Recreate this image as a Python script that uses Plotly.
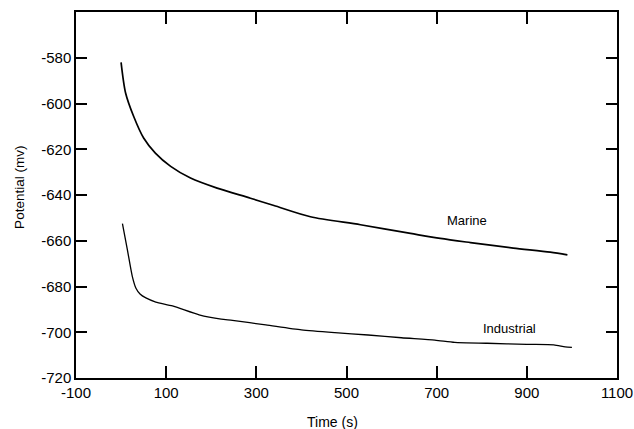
import plotly.graph_objects as go

# Marine series (time s, potential mV)
marine_t = [0, 10, 28, 50, 76, 110, 154, 213, 287, 339, 420, 531, 642, 708, 775, 870, 952, 990]
marine_v = [-582, -595.4, -605.7, -615.1, -621.7, -627.5, -632.6, -637.0, -641.4, -644.6, -649.5, -653.0, -656.8, -659.0, -660.8, -663.2, -665.0, -666.2]

# Industrial series
ind_t = [3, 14, 25, 33, 42, 55, 77, 114, 173, 222, 247, 321, 400, 474, 548, 622, 696, 740, 812, 900, 960, 985, 1000]
ind_v = [-652.5, -664, -675.7, -680.8, -683.3, -685.0, -686.8, -688.5, -692.4, -694.3, -694.8, -696.8, -699.0, -700.2, -701.2, -702.4, -703.4, -704.4, -704.8, -705.3, -705.5, -706.4, -706.6]

x_ticks = [-100, 100, 300, 500, 700, 900, 1100]
y_ticks = [-720, -700, -680, -660, -640, -620, -600, -580]

labels = [("Marine", 768, -651.2), ("Industrial", 862, -698.5)]

font_family = "Liberation Sans, Arial, sans-serif"

fig = go.Figure()
fig.add_trace(go.Scatter(x=marine_t, y=marine_v, mode="lines",
                         line=dict(color="black", width=1.7, shape="spline", smoothing=0.8),
                         showlegend=False))
fig.add_trace(go.Scatter(x=ind_t, y=ind_v, mode="lines",
                         line=dict(color="black", width=1.3, shape="spline", smoothing=0.6),
                         showlegend=False))

for text, lx, ly in labels:
    fig.add_annotation(x=lx, y=ly, text=text, showarrow=False,
                       font=dict(size=13, color="black", family=font_family))

# axis titles as annotations for exact placement
fig.add_annotation(xref="paper", yref="paper", x=0.475, y=0, yanchor="middle",
                   yshift=-44, text="Time (s)", showarrow=False,
                   font=dict(size=14, color="black", family=font_family))
fig.add_annotation(xref="paper", yref="paper", x=-0.105, y=0.52, textangle=-90,
                   xanchor="center", yanchor="middle",
                   text="Potential (mv)", showarrow=False,
                   font=dict(size=13.5, color="black", family=font_family))

fig.update_layout(
    width=634, height=429,
    margin=dict(l=76, r=17, t=12, b=51),
    paper_bgcolor="white", plot_bgcolor="white",
    font=dict(family=font_family, color="black", size=15),
)
fig.update_xaxes(range=[-100, 1100], tickvals=x_ticks, ticktext=[str(v) for v in x_ticks],
                 automargin=False,
                 showgrid=False, zeroline=False, showline=True, linecolor="black", linewidth=1.5,
                 mirror="ticks", ticks="inside", ticklen=12, tickwidth=1.5, tickcolor="black",
                 tickfont=dict(size=15))
fig.update_yaxes(range=[-720, -560], tickvals=y_ticks, ticktext=[str(v) for v in y_ticks],
                 automargin=False,
                 showgrid=False, zeroline=False, showline=True, linecolor="black", linewidth=1.5,
                 mirror="ticks", ticks="inside", ticklen=11, tickwidth=1.5, tickcolor="black",
                 tickfont=dict(size=15))

fig.write_html("out.html", config={"displayModeBar": False},
               post_script="document.body.style.margin='0';document.body.style.overflow='hidden';")
